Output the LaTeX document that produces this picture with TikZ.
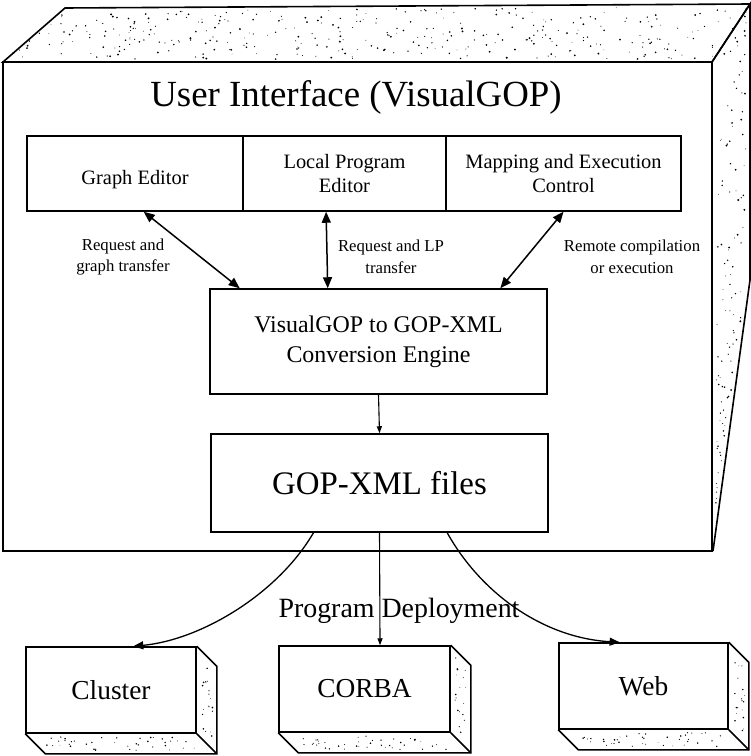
\documentclass[tikz,border=0pt]{standalone}
\usepackage{fontspec}
\setmainfont{Liberation Serif}
\usetikzlibrary{arrows.meta,calc}
\begin{document}
\begin{tikzpicture}[x=1bp,y=-1bp,line join=miter,
  edge/.style={line width=1.6bp},
  ibox/.style={draw,line width=1.5bp,inner sep=0pt,align=center},
  rowlbl/.style={font=\fontsize{20.5}{25}\selectfont},
  dbox/.style={draw,line width=1.5bp,inner sep=0pt,font=\fontsize{27.5}{30}\selectfont},
  lbl/.style={font=\fontsize{16.8}{22}\selectfont,align=center},
  dblarr/.style={line width=1.5bp,{Triangle[length=11bp,width=9bp]}-{Triangle[length=11bp,width=9bp]}},
  onearr/.style={line width=1.3bp,-{Triangle[length=10bp,width=8bp]}},
  thinarr/.style={line width=1.1bp,-{Triangle[length=7bp,width=5bp]}}]
\useasboundingbox (0,0) rectangle (751,756);
% big 3D box
\draw[edge] (3,62) -- (65,8) -- (750,4) -- (712,62) -- cycle;
\draw[edge] (712,62) -- (750,4) -- (750,280) -- (713,551);
\draw[edge] (3,62) rectangle (712,551);
\pgfmathsetseed{7}
\foreach \i in {1,...,350}{
  \pgfmathsetmacro\u{rnd}\pgfmathsetmacro\v{0.05+0.9*rnd}\pgfmathsetmacro\r{0.35+0.7*rnd}
  \pgfmathsetmacro\xx{3+\u*709+\v*(62-\u*24)}\pgfmathsetmacro\yy{62-\v*(54+\u*4)}
  \fill (\xx,\yy) circle[radius=\r bp];}
\foreach \i in {1,...,110}{
  \pgfmathsetmacro\yy{12+rnd*520}
  \pgfmathsetmacro\xr{\yy<280 ? 746 : 746-(\yy-280)*0.135}
  \pgfmathsetmacro\xl{\yy<62 ? 716+(62-\yy)*0.62 : 716}
  \pgfmathsetmacro\xx{\xl+rnd*(\xr-\xl)}\pgfmathsetmacro\r{0.35+0.7*rnd}
  \fill (\xx,\yy) circle[radius=\r bp];}
\node[font=\fontsize{37}{40}\selectfont] (title) at (356,97) {User Interface (VisualGOP)};
% top row
\node[ibox,rowlbl,minimum width=216bp,minimum height=75bp,text height=22bp,text depth=0bp] (ge) at (135,173.5) {Graph Editor};
\node[ibox,rowlbl,minimum width=203bp,minimum height=75bp] (lpe) at (344.5,173.5) {Local Program\\Editor};
\node[ibox,rowlbl,minimum width=235bp,minimum height=75bp] (mec) at (563.5,173.5) {Mapping and Execution\\Control};
\node[ibox,font=\fontsize{24}{30}\selectfont,minimum width=337bp,minimum height=105bp] (conv) at (378.5,341.5) {VisualGOP to GOP-XML\\Conversion Engine};
\node[ibox,font=\fontsize{33}{38}\selectfont,minimum width=337bp,minimum height=98bp] (gop) at (379.5,483) {GOP-XML files};
% arrows
\draw[dblarr] ($(ge.south west)!0.54!(ge.south east)$) -- ($(conv.north west)!0.09!(conv.north east)$);
\draw[dblarr] ($(lpe.south west)!0.41!(lpe.south east)$) -- ($(conv.north west)!0.35!(conv.north east)$);
\draw[dblarr] ($(mec.south west)!0.50!(mec.south east)$) -- ($(conv.north west)!0.86!(conv.north east)$);
\node[lbl] (l1) at (123,257) {Request and\\graph transfer};
\node[lbl] (l2) at (391,257) {Request and LP\\transfer};
\node[lbl] (l3) at (632,257) {Remote compilation\\or execution};
\draw[thinarr] (conv.south) -- (gop.north);
% deployment targets
\node[dbox,minimum width=170bp,minimum height=86bp] (cluster) at (111,690) {Cluster};
\node[dbox,minimum width=171bp,minimum height=86bp] (corba) at (364.5,689) {CORBA};
\node[dbox,minimum width=169bp,minimum height=86bp] (web) at (643.5,686) {Web};
\foreach \n in {cluster,corba,web}{
  \draw[line width=1.5bp] (\n.north east) -- ++(20,20) -- ($(\n.south east)+(20,20)$) -- ($(\n.south west)+(20,20)$) -- (\n.south west);
  \draw[line width=1.5bp] (\n.south east) -- ++(20,20);
  \foreach \i in {1,...,40}{
    \pgfmathsetmacro\u{0.06+0.88*rnd}\pgfmathsetmacro\v{0.15+0.7*rnd}\pgfmathsetmacro\r{0.35+0.6*rnd}
    \pgfmathsetmacro\dx{\u*166+\v*20}\pgfmathsetmacro\dy{\v*20}
    \fill ($(\n.south west)+(\dx,\dy)$) circle[radius=\r bp];}
  \foreach \i in {1,...,18}{
    \pgfmathsetmacro\u{0.08+0.84*rnd}\pgfmathsetmacro\v{0.2+0.6*rnd}\pgfmathsetmacro\r{0.35+0.6*rnd}
    \pgfmathsetmacro\dx{\v*20}\pgfmathsetmacro\dy{\u*84+\v*20}
    \fill ($(\n.north east)+(\dx,\dy)$) circle[radius=\r bp];}
}
\draw[onearr] ($(gop.south west)!0.305!(gop.south east)$) .. controls (277,595) and (200,640) .. ($(cluster.north west)!0.63!(cluster.north east)$);
\draw[thinarr] (gop.south) -- ($(corba.north west)!0.59!(corba.north east)$);
\draw[onearr] ($(gop.south west)!0.70!(gop.south east)$) .. controls (482,595) and (545,638) .. ($(web.north west)!0.36!(web.north east)$);
\node[font=\fontsize{28}{32}\selectfont,anchor=base west] (pd) at (275,617) {Program Deployment};
\end{tikzpicture}
\end{document}
